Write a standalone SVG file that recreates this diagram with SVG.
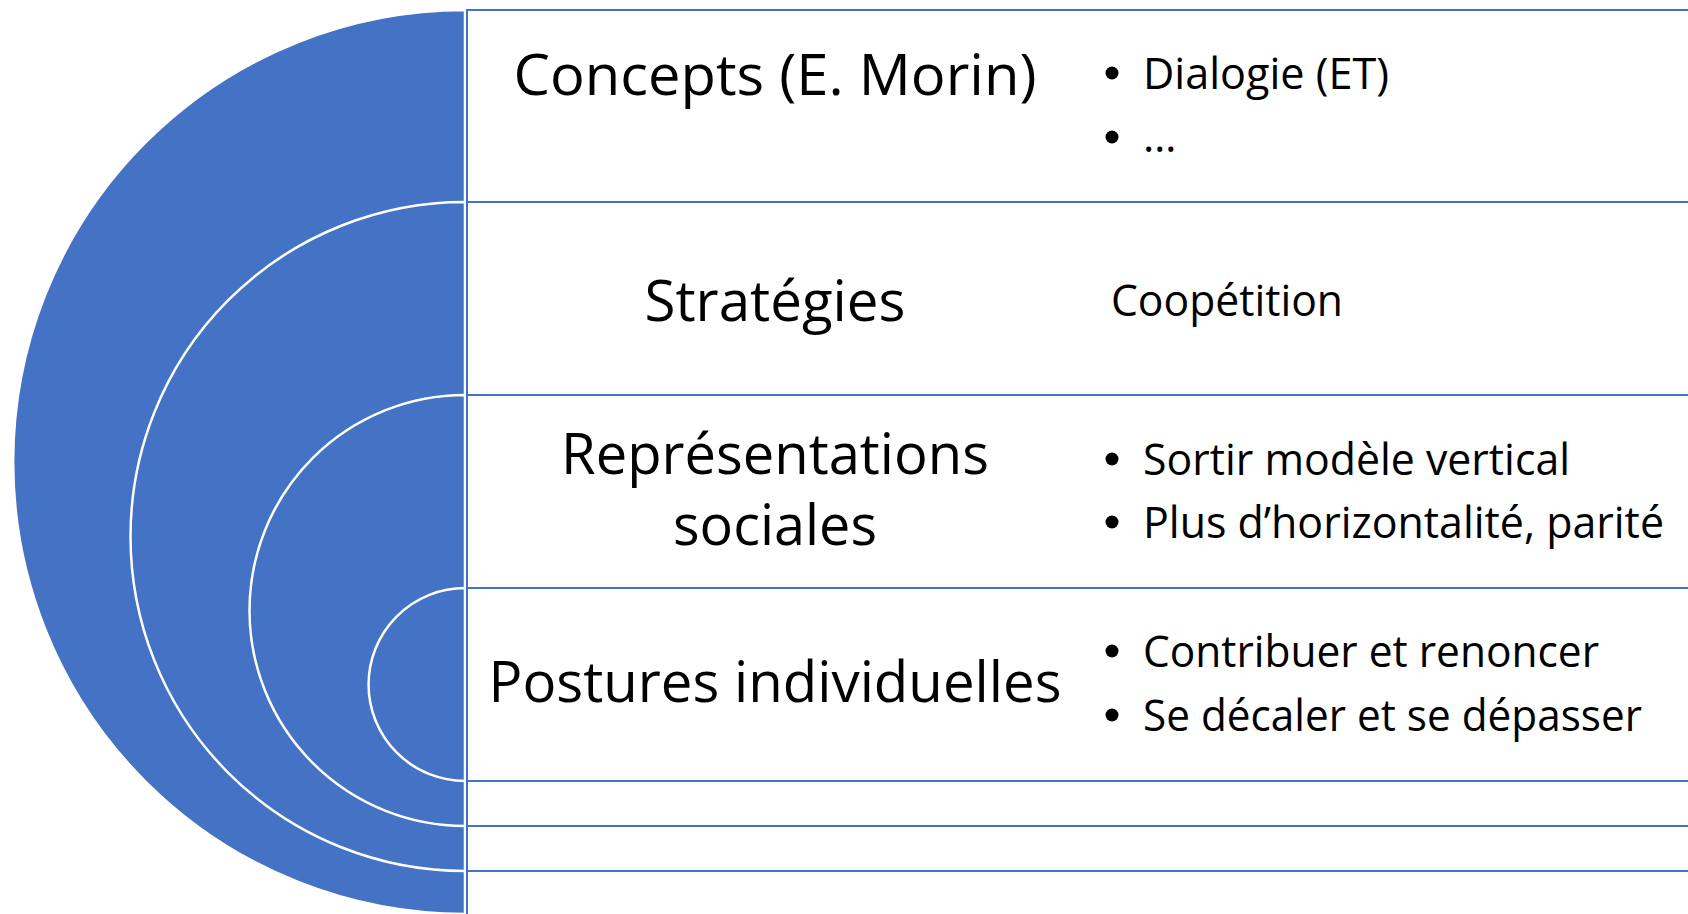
<svg xmlns="http://www.w3.org/2000/svg" width="1688" height="914" viewBox="0 0 1688 914">
<style>
.arc{fill:#4472C4;stroke:#FFFFFF;stroke-width:2.5}
.row{fill:#FFFFFF;stroke:#4472C4;stroke-width:2}
.title{font-family:"Open Sans","Noto Sans","DejaVu Sans",sans-serif;font-size:57px;fill:#000000;text-anchor:middle}
.item{font-family:"Open Sans","Noto Sans","DejaVu Sans",sans-serif;font-size:43px;fill:#000000}
.dot{fill:#000000}
</style>
<rect x="0" y="0" width="1688" height="914" fill="#FFFFFF"/>
<g id="arcs">
<path class="arc" d="M465 10 A452 452 0 0 0 465 914 Z"/>
<path class="arc" d="M465 202 A334.5 334.5 0 0 0 465 871 Z"/>
<path class="arc" d="M465 395 A215.5 215.5 0 0 0 465 826 Z"/>
<path class="arc" d="M465 588 A96.5 96.5 0 0 0 465 781 Z"/>
</g>
<g id="rows">
<rect class="row" x="467" y="10" width="1300" height="940"/>
<rect class="row" x="467" y="202" width="1300" height="669"/>
<rect class="row" x="467" y="395" width="1300" height="431"/>
<rect class="row" x="467" y="588" width="1300" height="193"/>
</g>
<g id="node-concepts">
<text class="title" x="775" y="95" textLength="523" lengthAdjust="spacingAndGlyphs">Concepts (E. Morin)</text>
<circle class="dot" cx="1112" cy="73" r="6.5"/>
<text class="item" x="1143" y="89" textLength="246" lengthAdjust="spacingAndGlyphs">Dialogie (ET)</text>
<circle class="dot" cx="1112" cy="137" r="6.5"/>
<text class="item" x="1143" y="152">…</text>
</g>
<g id="node-strategies">
<text class="title" x="775" y="321" textLength="261" lengthAdjust="spacingAndGlyphs">Stratégies</text>
<text class="item" x="1111" y="316" textLength="232" lengthAdjust="spacingAndGlyphs">Coopétition</text>
</g>
<g id="node-representations">
<text class="title" x="775" y="474" textLength="428" lengthAdjust="spacingAndGlyphs">Représentations</text>
<text class="title" x="775" y="545" textLength="204" lengthAdjust="spacingAndGlyphs">sociales</text>
<circle class="dot" cx="1112" cy="459" r="6.5"/>
<text class="item" x="1143" y="475" textLength="427" lengthAdjust="spacingAndGlyphs">Sortir modèle vertical</text>
<circle class="dot" cx="1112" cy="522" r="6.5"/>
<text class="item" x="1143" y="538" textLength="521" lengthAdjust="spacingAndGlyphs">Plus d’horizontalité, parité</text>
</g>
<g id="node-postures">
<text class="title" x="775" y="702" textLength="573" lengthAdjust="spacingAndGlyphs">Postures individuelles</text>
<circle class="dot" cx="1112" cy="651" r="6.5"/>
<text class="item" x="1143" y="667" textLength="456" lengthAdjust="spacingAndGlyphs">Contribuer et renoncer</text>
<circle class="dot" cx="1112" cy="715" r="6.5"/>
<text class="item" x="1143" y="731" textLength="499" lengthAdjust="spacingAndGlyphs">Se décaler et se dépasser</text>
</g>
</svg>
